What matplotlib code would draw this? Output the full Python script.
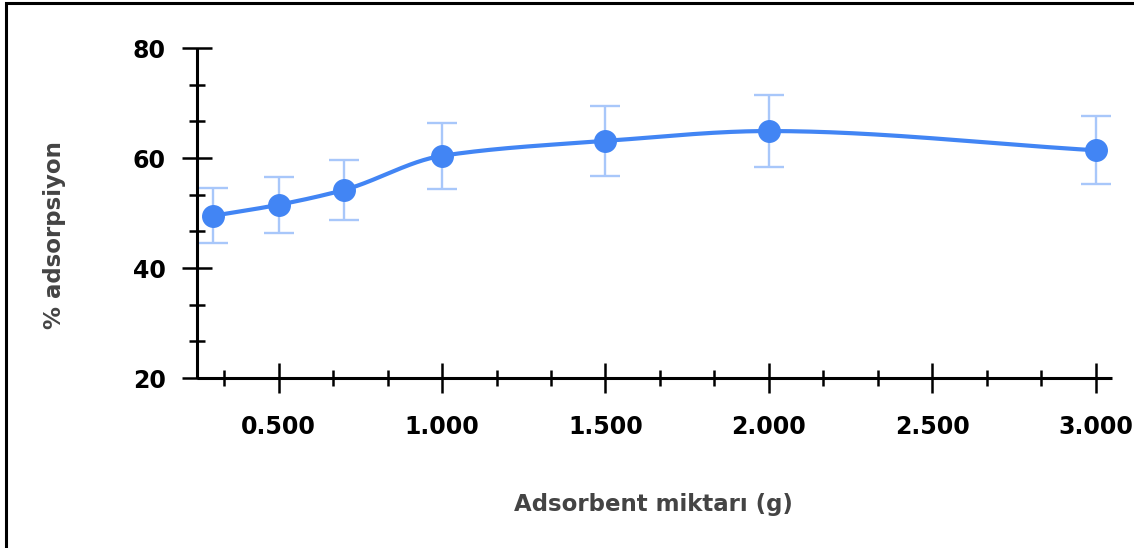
"""
Adsorbent amount vs % adsorption, with error bars.
Saves out.png
"""

import numpy as np
import matplotlib
matplotlib.use('Agg')
import matplotlib.pyplot as plt
from matplotlib.patches import Rectangle
from matplotlib.ticker import MultipleLocator, FormatStrFormatter

# ── Data ──────────────────────────────────────────────────────────────────────
dose_g     = [0.3, 0.5, 0.7, 1.0, 1.5, 2.0, 3.0]
adsorption = [49.5, 51.5, 54.2, 60.4, 63.1, 64.9, 61.4]
err        = [5.0, 5.1, 5.4, 6.0, 6.4, 6.5, 6.2]

BLUE  = '#4285F4'
LIGHT = '#A8C7FA'
GREY  = '#444444'


def pchip(x, y, xs):
    """Monotone cubic (Fritsch-Carlson) for drawing the smoothed line."""
    x, y = np.asarray(x, float), np.asarray(y, float)
    h = np.diff(x)
    d = np.diff(y) / h
    m = np.zeros_like(y)
    for k in range(1, len(x) - 1):
        if d[k - 1] * d[k] > 0:
            w1 = 2 * h[k] + h[k - 1]
            w2 = h[k] + 2 * h[k - 1]
            m[k] = (w1 + w2) / (w1 / d[k - 1] + w2 / d[k])
    m[0], m[-1] = d[0], d[-1]
    idx = np.clip(np.searchsorted(x, xs) - 1, 0, len(h) - 1)
    t = (xs - x[idx]) / h[idx]
    h00 = 2 * t**3 - 3 * t**2 + 1
    h10 = t**3 - 2 * t**2 + t
    h01 = -2 * t**3 + 3 * t**2
    h11 = t**3 - t**2
    return (h00 * y[idx] + h10 * h[idx] * m[idx]
            + h01 * y[idx + 1] + h11 * h[idx] * m[idx + 1])


plt.rcParams['font.family'] = ['DejaVu Sans']

fig = plt.figure(figsize=(11.34, 5.48), dpi=100)
ax = fig.add_axes([197 / 1134, 170 / 548, (1112 - 197) / 1134, 330 / 548])

# error bars behind the line
ax.errorbar(dose_g, adsorption, yerr=err, fmt='none', ecolor=LIGHT,
            elinewidth=1.7, capsize=11, capthick=1.7, zorder=2)

xs = np.linspace(dose_g[0], dose_g[-1], 400)
ax.plot(xs, pchip(dose_g, adsorption, xs), color=BLUE, lw=3.0, zorder=3,
        solid_capstyle='round')
ax.plot(dose_g, adsorption, 'o', color=BLUE, ms=15.5, zorder=4)

ax.set_xlim(0.25, 3.05)
ax.set_ylim(20, 80)
ax.xaxis.set_major_locator(MultipleLocator(0.5))
ax.xaxis.set_minor_locator(MultipleLocator(1 / 6))
ax.xaxis.set_major_formatter(FormatStrFormatter('%.3f'))
ax.yaxis.set_major_locator(MultipleLocator(20))
ax.yaxis.set_minor_locator(MultipleLocator(20 / 3))

for s in ['top', 'right']:
    ax.spines[s].set_visible(False)
for s in ['left', 'bottom']:
    ax.spines[s].set_linewidth(2.2)
    ax.spines[s].set_capstyle('butt')

ax.tick_params(which='major', direction='inout', length=21, width=1.8,
               color='black', labelsize=17, labelcolor='black')
ax.tick_params(which='minor', direction='inout', length=11, width=1.8,
               color='black')
ax.tick_params(axis='y', which='major', pad=12)
ax.tick_params(axis='x', which='major', pad=16)
for lab in ax.get_xticklabels() + ax.get_yticklabels():
    lab.set_fontweight('bold')

fig.text(653 / 1134, 1 - 505 / 548, 'Adsorbent miktarı (g)', ha='center',
         va='center', fontsize=16.5, fontweight='bold', color=GREY)
fig.text(55 / 1134, 1 - 235 / 548, '% adsorpsiyon', ha='center',
         va='center', rotation=90, fontsize=16.5, fontweight='bold', color=GREY)

# outer frame of the original picture
fig.patches.append(Rectangle((6 / 1134, -0.05), 1.2, 1 - 3 / 548 + 0.05,
                             transform=fig.transFigure, fill=False,
                             edgecolor='black', lw=2.2))

plt.savefig('out.png', dpi=100, facecolor='white')
plt.close()
